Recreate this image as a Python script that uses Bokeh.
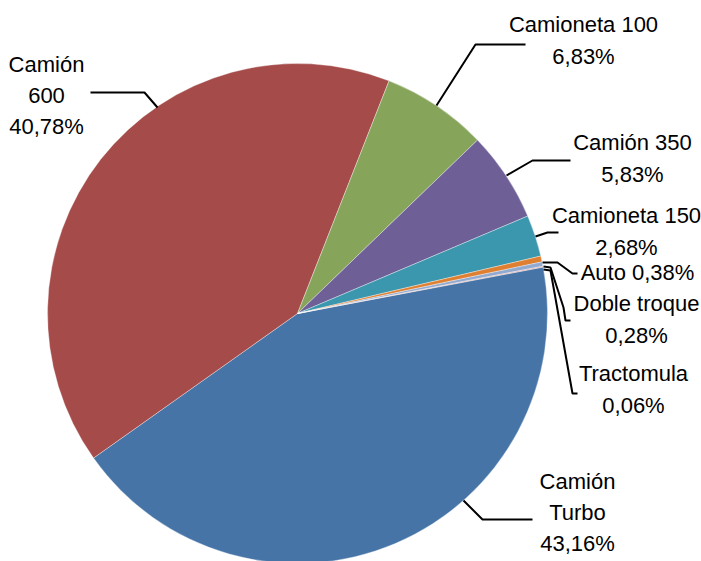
import math
from bokeh.plotting import figure
from bokeh.models import Range1d, ColumnDataSource
from bokeh.core.properties import value
from bokeh.embed import file_html
from bokeh.resources import INLINE

# ---- data ----
categories = ["Camión Turbo", "Camión 600", "Camioneta 100", "Camión 350",
              "Camioneta 150", "Auto", "Doble troque", "Tractomula"]
shares = [43.16, 40.78, 6.83, 5.83, 2.68, 0.38, 0.28, 0.06]
label_names = ["Camión\nTurbo", "Camión\n600", "Camioneta 100", "Camión 350",
               "Camioneta 150", "Auto", "Doble troque", "Tractomula"]
colors = ["#4674A7", "#A54B4A", "#86A55B", "#6E5F97",
          "#3B97AD", "#DE7F31", "#92A9D0", "#D19392"]

# ---- layout (image pixel coordinates) ----
W, H = 701, 561
def fy(y):
    return H - y

CX, CY, R = 297, 313, 250
START_CW_FROM_TOP = 79.3  # degrees, first slice start (clockwise from 12 o'clock)

label_pos = [(577, 512), (46, 95), (583, 40), (632, 158),
             (626, 231), (637, 272), (636, 319), (633, 389)]
single_line = [False, False, False, False, False, True, False, False]

leaders = [
    [(463, 500), (482, 519), (532, 519)],
    [(157, 107), (144, 92), (90, 92)],
    [(436, 105), (475, 44), (525, 44)],
    [(506, 175), (532, 160), (570, 160)],
    [(535, 236), (547, 232), (558, 232)],
    [(542, 262), (557, 262), (572, 273), (577, 273)],
    [(543, 266), (550, 267), (563, 307), (565, 320), (570, 320)],
    [(543, 269), (550, 270), (572, 393), (577, 393)],
]

# ---- angles ----
total = sum(shares)
a0 = math.radians(90 - START_CW_FROM_TOP)
starts, ends = [], []
cum = 0.0
for v in shares:
    starts.append(a0 - 2 * math.pi * cum / total)
    cum += v
    ends.append(a0 - 2 * math.pi * cum / total)

src = ColumnDataSource(dict(cat=categories, share=shares, start=starts,
                            end=ends, color=colors))

p = figure(width=W, height=H, output_backend="svg", toolbar_location=None,
           x_range=Range1d(0, W), y_range=Range1d(0, H),
           min_border=0, outline_line_color=None)
p.axis.visible = False
p.grid.visible = False
p.background_fill_color = "white"
p.border_fill_color = "white"

p.wedge(x=CX, y=fy(CY), radius=R, start_angle="start", end_angle="end",
        direction="clock", fill_color="color", line_color="white",
        line_width=0.6, line_alpha=0.6, source=src)

for pts in leaders:
    p.line([q[0] for q in pts], [fy(q[1]) for q in pts],
           line_color="black", line_width=2)

texts, xs, ys = [], [], []
for name, v, pos, single in zip(label_names, shares, label_pos, single_line):
    pct = f"{v:.2f}".replace(".", ",") + "%"
    texts.append(name + (" " if single else "\n") + pct)
    xs.append(pos[0])
    ys.append(fy(pos[1]))

p.text(x=xs, y=ys, text=texts, text_align="center", text_baseline="middle",
       text_font=value("Liberation Sans"), text_font_size="22px",
       text_color="black", text_line_height=1.25)

open("out.html", "w").write(file_html(p, INLINE))
